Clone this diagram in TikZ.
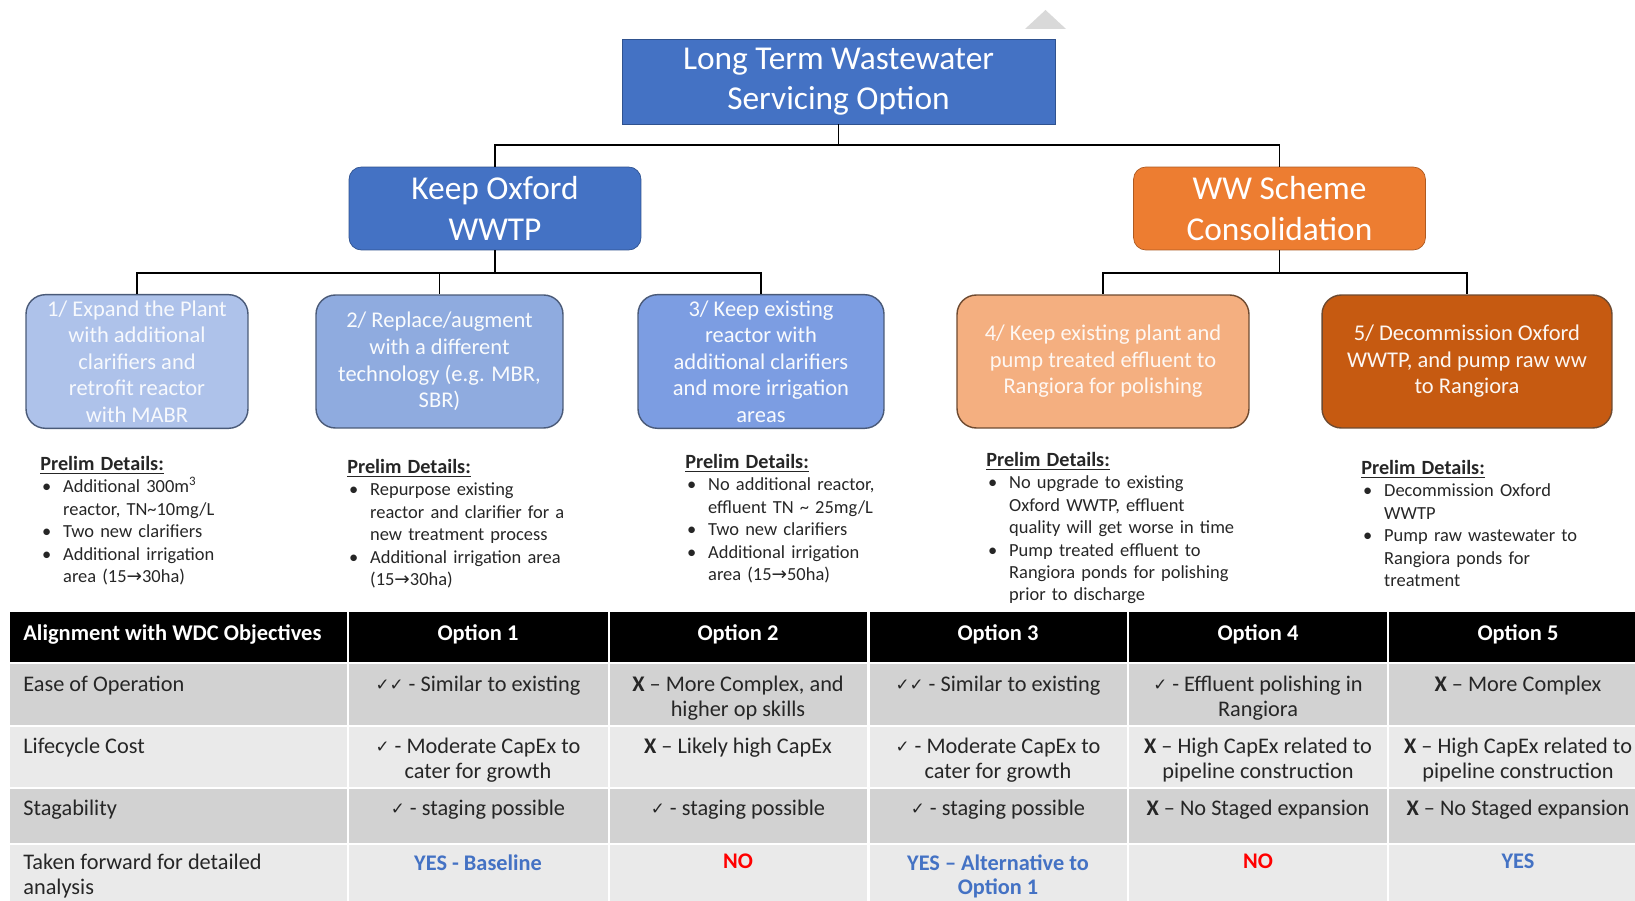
\documentclass[tikz,border=0pt]{standalone}
\usepackage{fontspec}
\setmainfont{Carlito}
\newfontfamily\symfont{DejaVu Sans}

\definecolor{oxblue}{HTML}{4472C4}
\definecolor{oxedge}{HTML}{2F528F}
\definecolor{wworange}{HTML}{ED7D31}
\definecolor{wwedge}{HTML}{AE5A21}
\definecolor{opt1}{HTML}{AEC2EA}
\definecolor{opt2}{HTML}{8FABDF}
\definecolor{opt3}{HTML}{7C9DE2}
\definecolor{opt4}{HTML}{F4AF80}
\definecolor{opt5}{HTML}{C65A11}
\definecolor{bluedge}{HTML}{4A5A78}
\definecolor{orgedge}{HTML}{6E4A30}
\definecolor{rowdark}{HTML}{D2D2D2}
\definecolor{rowlight}{HTML}{EAEAEA}
\definecolor{yesblue}{HTML}{4472C4}
\definecolor{nored}{HTML}{FF0000}

\newcommand\chk{\raisebox{.15ex}{\symfont\fontsize{9.5}{10}\selectfont ✓}}
\newcommand\rarr{{\symfont\fontsize{10.5}{10}\selectfont →}}
\newcommand\phead{\noindent{\fontsize{11.5}{14}\selectfont\underline{\textbf{Prelim Details:}}}}
\newcommand\pitem[1]{\par\noindent\hangindent=13pt\hangafter=1%
  \makebox[13pt][l]{\hspace{1pt}\textbullet}{\let\\\newline #1}\par}

\tikzset{
  topbox/.style={draw=oxedge, fill=oxblue, text=white, align=center,
    font=\fontsize{19}{23}\selectfont},
  mainbox/.style={draw, rounded corners=7pt, text=white, align=center,
    minimum width=5.84cm, minimum height=1.66cm, font=\fontsize{19}{23}\selectfont},
  optbox/.style={draw, line width=0.8pt, rounded corners=11pt, align=center,
    minimum height=2.66cm, font=\fontsize{12.8}{15.1}\selectfont},
  prelim/.style={anchor=north west, inner sep=0pt, text width=6cm, align=left,
    text=black!85, font=\fontsize{10.5}{12.75}\selectfont},
  hdr/.style={text=white, inner sep=0pt, font=\bfseries\fontsize{12.8}{14}\selectfont},
  cell/.style={anchor=north, inner sep=0pt, align=center, text=black!85,
    font=\fontsize{12.7}{14}\selectfont},
  rowlabel/.style={cell, anchor=north west, align=left},
  answer/.style={cell, font=\bfseries\fontsize{12.7}{14}\selectfont},
  link/.style={line width=0.8pt}
}

\begin{document}
\begin{tikzpicture}[x=0.02cm,y=-0.02cm]
\useasboundingbox (0,0) rectangle (1635,901);

% small grey marker above the tree
\fill[black!15] (1025,29) -- (1045.5,10) -- (1066,29) -- cycle;

% tree boxes
\node[topbox, minimum width=8.66cm, minimum height=1.70cm] (top) at (838.5,81.5) {Long Term Wastewater\\Servicing Option};
\node[mainbox, fill=oxblue, draw=oxedge] (keep) at (495,208.5) {Keep Oxford\\WWTP};
\node[mainbox, fill=wworange, draw=wwedge] (ww) at (1279.5,208.5) {WW Scheme\\Consolidation};

\node[optbox, minimum width=4.44cm, fill=opt1, draw=bluedge, text=white!90!opt1] (o1) at (137,361.5) {1/ Expand the Plant\\with additional\\clarifiers and\\retrofit reactor\\with MABR};
\node[optbox, minimum width=4.94cm, fill=opt2, draw=bluedge, text=white!95!opt2] (o2) at (439.5,361.5) {2/ Replace/augment\\with a different\\technology (e.g. MBR,\\SBR)};
\node[optbox, minimum width=4.92cm, fill=opt3, draw=bluedge, text=white!95!opt3] (o3) at (761,361.5) {3/ Keep existing\\reactor with\\additional clarifiers\\and more irrigation\\areas};
\node[optbox, minimum width=5.84cm, fill=opt4, draw=orgedge, text=white!90!opt4] (o4) at (1103,361.5) {4/ Keep existing plant and\\pump treated effluent to\\Rangiora for polishing};
\node[optbox, minimum width=5.80cm, fill=opt5, draw=orgedge, text=white!95!opt5] (o5) at (1467,361.5) {5/ Decommission Oxford\\WWTP, and pump raw ww\\to Rangiora};

% tree links
\coordinate (j0) at (838.5,145);
\coordinate (j1) at (495,273);
\coordinate (j2) at (1279.5,273);
\draw[link] (top.south) -- (j0) -| (keep.north);
\draw[link] (j0) -| (ww.north);
\draw[link] (keep.south) -- (j1) -| (o1.north);
\draw[link] (j1) -| (o2.north);
\draw[link] (j1) -| (o3.north);
\draw[link] (ww.south) -- (j2) -| (o4.north);
\draw[link] (j2) -| (o5.north);

% prelim details
\node[prelim] (pd1) at (40,456) {\phead \pitem{Additional 300m\textsuperscript{3}\\reactor, TN\textasciitilde10mg/L} \pitem{Two new clarifiers} \pitem{Additional irrigation\\area (15\rarr30ha)}};
\node[prelim] (pd2) at (347,459) {\phead \pitem{Repurpose existing\\reactor and clarifier for a\\new treatment process} \pitem{Additional irrigation area\\(15\rarr30ha)}};
\node[prelim] (pd3) at (685,454) {\phead \pitem{No additional reactor,\\effluent TN \textasciitilde{} 25mg/L} \pitem{Two new clarifiers} \pitem{Additional irrigation\\area (15\rarr50ha)}};
\node[prelim] (pd4) at (986,452) {\phead \pitem{No upgrade to existing\\Oxford WWTP, effluent\\quality will get worse in time} \pitem{Pump treated effluent to\\Rangiora ponds for polishing\\prior to discharge}};
\node[prelim] (pd5) at (1361,460) {\phead \pitem{Decommission Oxford\\WWTP} \pitem{Pump raw wastewater to\\Rangiora ponds for\\treatment}};

% table rows
\fill[black] (10,612) rectangle (1635,662);
\fill[rowdark] (10,662) rectangle (1635,726);
\fill[rowlight] (10,726) rectangle (1635,788);
\fill[rowdark] (10,788) rectangle (1635,844);
\fill[rowlight] (10,844) rectangle (1635,901);
\foreach \x in {348,609,868.5,1128,1388}
  \draw[white, line width=1.2pt] (\x,612) -- (\x,901);
\foreach \y in {663,726,788,844}
  \draw[white, line width=1.2pt] (10,\y) -- (1635,\y);

% table header
\node[hdr, anchor=west] (h0) at (23,634) {Alignment with WDC Objectives};
\foreach \i/\x in {1/478,2/738,3/998,4/1258,5/1518}
  \node[hdr] (h\i) at (\x,634) {Option \i};

% ease of operation
\node[rowlabel] (a0) at (23,676) {Ease of Operation};
\node[cell] (a1) at (478,676) {\chk\chk{} - Similar to existing};
\node[cell] (a2) at (738,676) {\textbf{X} – More Complex, and\\higher op skills};
\node[cell] (a3) at (998,676) {\chk\chk{} - Similar to existing};
\node[cell] (a4) at (1258,676) {\chk{} - Effluent polishing in\\Rangiora};
\node[cell] (a5) at (1518,676) {\textbf{X} – More Complex};

% lifecycle cost
\node[rowlabel] (b0) at (23,738) {Lifecycle Cost};
\node[cell] (b1) at (478,738) {\chk{} - Moderate CapEx to\\cater for growth};
\node[cell] (b2) at (738,738) {\textbf{X} – Likely high CapEx};
\node[cell] (b3) at (998,738) {\chk{} - Moderate CapEx to\\cater for growth};
\node[cell] (b4) at (1258,738) {\textbf{X} – High CapEx related to\\pipeline construction};
\node[cell] (b5) at (1518,738) {\textbf{X} – High CapEx related to\\pipeline construction};

% stagability
\node[rowlabel] (c0) at (23,800) {Stagability};
\node[cell] (c1) at (478,800) {\chk{} - staging possible};
\node[cell] (c2) at (738,800) {\chk{} - staging possible};
\node[cell] (c3) at (998,800) {\chk{} - staging possible};
\node[cell] (c4) at (1258,800) {\textbf{X} – No Staged expansion};
\node[cell] (c5) at (1518,800) {\textbf{X} – No Staged expansion};

% taken forward
\node[rowlabel] (d0) at (23,854) {Taken forward for detailed\\analysis};
\node[answer, text=yesblue] (d1) at (478,854) {YES - Baseline};
\node[answer, text=nored] (d2) at (738,854) {NO};
\node[answer, text=yesblue] (d3) at (998,854) {YES – Alternative to\\Option 1};
\node[answer, text=nored] (d4) at (1258,854) {NO};
\node[answer, text=yesblue] (d5) at (1518,854) {YES};

\end{tikzpicture}
\end{document}
